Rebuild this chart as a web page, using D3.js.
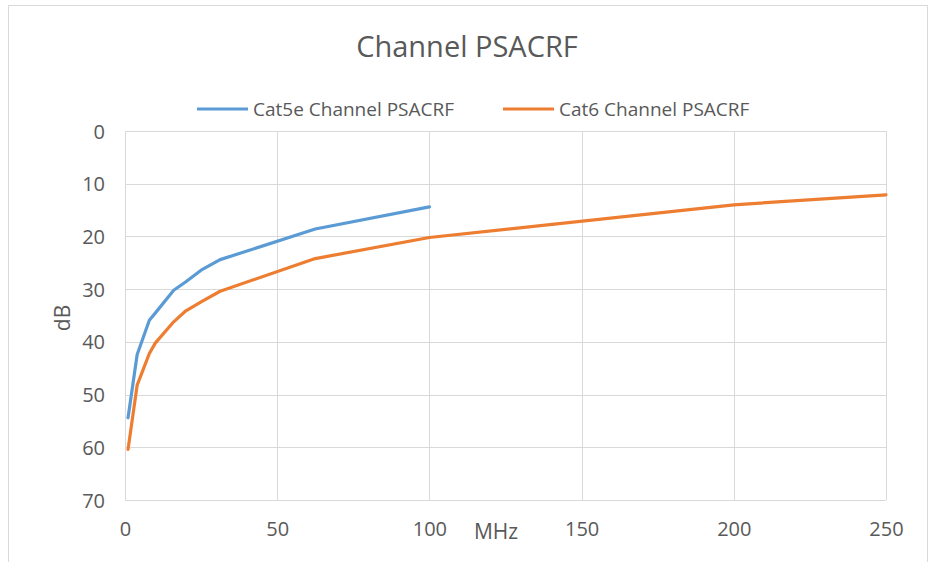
<!DOCTYPE html>
<html lang="en">
<head>
    <meta charset="UTF-8">
    <title>Channel PSACRF</title>
    <script src="https://d3js.org/d3.v7.min.js"></script>
    <style>
        body { margin: 0; background: #fff; }
        text { font-family: "Open Sans", sans-serif; fill: #595959; }
    </style>
</head>
<body>
    <script type="text/javascript">

        // data
        var freqCat5e = [1, 4, 8, 10, 16, 20, 25, 31.25, 62.5, 100];
        var cat5e = [54.4, 42.4, 35.9, 34.5, 30.2, 28.6, 26.4, 24.4, 18.6, 14.4];
        var freqCat6 = [1, 4, 8, 10, 16, 20, 25, 31.25, 62.5, 100, 200, 250];
        var cat6 = [60.4, 48.2, 42.2, 40.2, 36.2, 34.1, 32.4, 30.4, 24.2, 20.2, 14.0, 12.1];
        var seriesNames = ["Cat5e Channel PSACRF", "Cat6 Channel PSACRF"];
        var colors = ["#5b9bd5", "#ed7d31"];
        var xTicks = [0, 50, 100, 150, 200, 250];
        var yTicks = [0, 10, 20, 30, 40, 50, 60, 70];

        var w = 934;
        var h = 562;
        var margin = { left: 125, right: 48, top: 131, bottom: 62 };

        var svg = d3.select("body")
            .append("svg")
            .attr("width", w)
            .attr("height", h);

        // chart border
        svg.append("rect")
            .attr("x", 8.5)
            .attr("y", 5.5)
            .attr("width", 919)
            .attr("height", 570)
            .attr("fill", "white")
            .attr("stroke", "#d9d9d9");

        var x = d3.scaleLinear().domain([0, 250]).range([margin.left, w - margin.right]);
        var y = d3.scaleLinear().domain([0, 70]).range([margin.top, h - margin.bottom]);

        // gridlines
        svg.append("g")
            .selectAll("line.h")
            .data(yTicks)
            .enter()
            .append("line")
            .attr("x1", x(0))
            .attr("x2", x(250))
            .attr("y1", function (d) { return Math.round(y(d)) + 0.5; })
            .attr("y2", function (d) { return Math.round(y(d)) + 0.5; })
            .attr("stroke", "#d9d9d9");

        svg.append("g")
            .selectAll("line.v")
            .data(xTicks)
            .enter()
            .append("line")
            .attr("y1", y(0))
            .attr("y2", y(70))
            .attr("x1", function (d) { return Math.round(x(d)) + 0.5; })
            .attr("x2", function (d) { return Math.round(x(d)) + 0.5; })
            .attr("stroke", "#d9d9d9");

        // axes
        var yAxis = svg.append("g")
            .attr("transform", "translate(" + (x(0) - 20) + ",0)")
            .call(d3.axisLeft(y).tickValues(yTicks).tickSize(0).tickPadding(0));
        yAxis.select(".domain").remove();
        yAxis.selectAll("text").style("font-size", "20px").attr("dy", "0.35em");

        var xAxis = svg.append("g")
            .attr("transform", "translate(0," + (y(70) + 22) + ")")
            .call(d3.axisBottom(x).tickValues(xTicks).tickSize(0).tickPadding(0));
        xAxis.select(".domain").remove();
        xAxis.selectAll("text").style("font-size", "20px");

        // lines
        var line = d3.line()
            .x(function (d) { return x(d[0]); })
            .y(function (d) { return y(d[1]); });

        var series = [d3.zip(freqCat5e, cat5e), d3.zip(freqCat6, cat6)];

        svg.selectAll("path.series")
            .data(series)
            .enter()
            .append("path")
            .attr("class", "series")
            .attr("d", line)
            .attr("fill", "none")
            .attr("stroke", function (d, i) { return colors[i]; })
            .attr("stroke-width", 3.2)
            .attr("stroke-linejoin", "round")
            .attr("stroke-linecap", "round");

        // title
        svg.append("text")
            .attr("x", 467)
            .attr("y", 57)
            .attr("text-anchor", "middle")
            .style("font-size", "29px")
            .text("Channel PSACRF");

        // axis titles
        svg.append("text")
            .attr("x", 496)
            .attr("y", 539)
            .attr("text-anchor", "middle")
            .style("font-size", "21px")
            .text("MHz");

        svg.append("text")
            .attr("transform", "translate(70,318) rotate(-90)")
            .attr("text-anchor", "middle")
            .style("font-size", "21px")
            .text("dB");

        // legend
        var legendX = [197, 503];
        var legend = svg.selectAll("g.legend")
            .data(seriesNames)
            .enter()
            .append("g")
            .attr("class", "legend")
            .attr("transform", function (d, i) { return "translate(" + legendX[i] + ",109)"; });

        legend.append("line")
            .attr("x1", 0)
            .attr("x2", 51)
            .attr("stroke", function (d, i) { return colors[i]; })
            .attr("stroke-width", 3.2);

        legend.append("text")
            .attr("x", 56)
            .attr("dy", "0.35em")
            .style("font-size", "19px")
            .text(function (d) { return d; });

    </script>
</body>
</html>
